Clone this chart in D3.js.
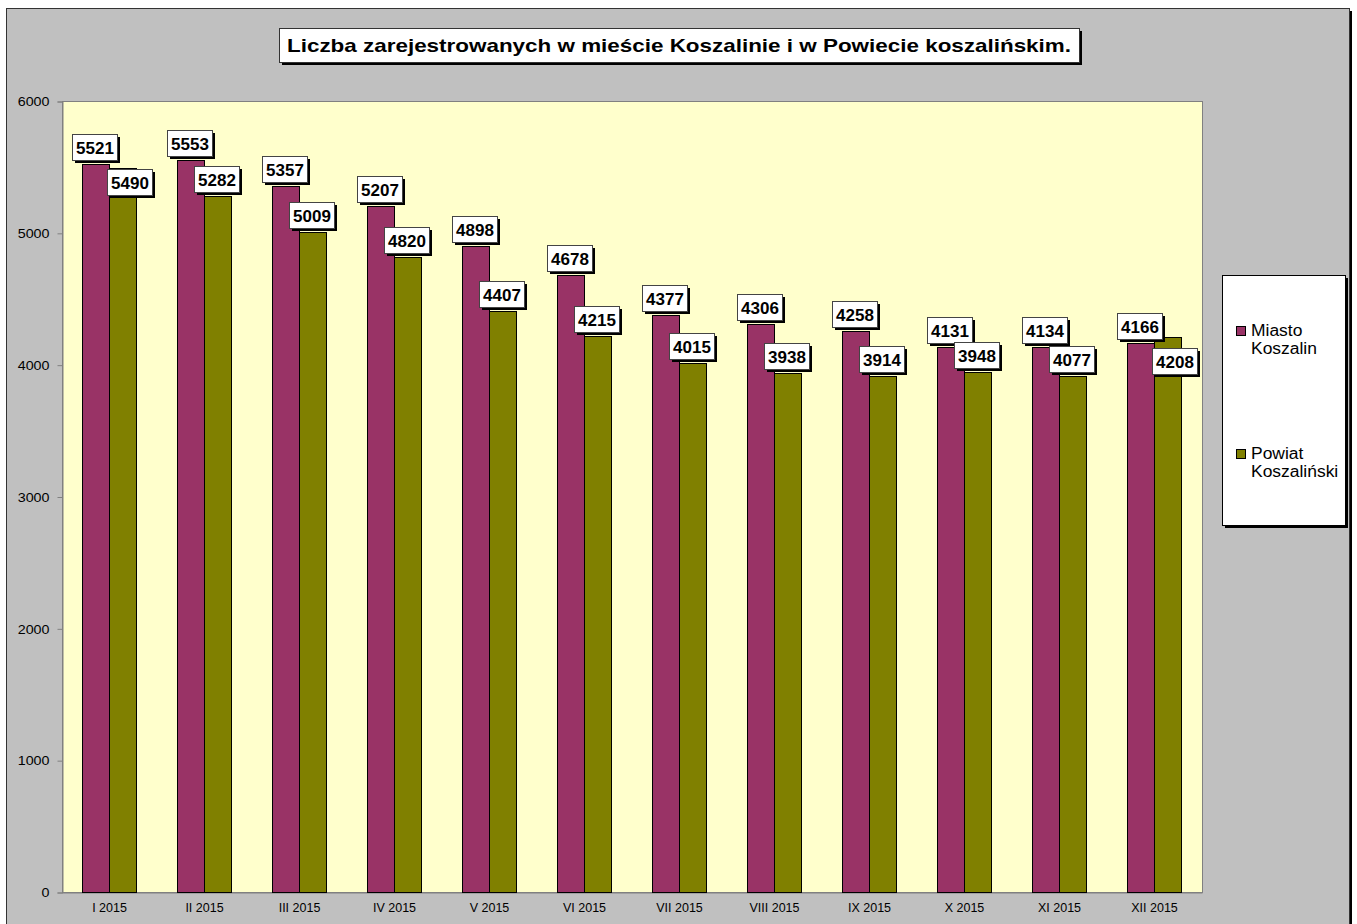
<!DOCTYPE html>
<html>
<head>
    <meta charset="utf-8" />
    <title>Liczba zarejestrowanych</title>
    <script src="https://cdn.jsdelivr.net/npm/d3@7"></script>
    <style type="text/css">
        body { margin: 0; background: #fff; }
        text { font-family: "Liberation Sans", Arial, sans-serif; }
    </style>
</head>
<body>
<div id="chart"></div>
<script type="text/javascript">
    // dane
    var categories = ["I 2015", "II 2015", "III 2015", "IV 2015", "V 2015", "VI 2015",
        "VII 2015", "VIII 2015", "IX 2015", "X 2015", "XI 2015", "XII 2015"];
    var miasto = [5521, 5553, 5357, 5207, 4898, 4678, 4377, 4306, 4258, 4131, 4134, 4166];
    // slupek XI na rysunku siega ok. 3914, etykieta pokazuje 4077
    var powiat = [5490, 5282, 5009, 4820, 4407, 4215, 4015, 3938, 3914, 3948, 3914, 4208];
    var powiatLabels = ["5490", "5282", "5009", "4820", "4407", "4215", "4015", "3938", "3914", "3948", "4077", "4208"];
    var miastoLabels = miasto.map(String);
    var seriesNames = ["Miasto\nKoszalin", "Powiat\nKoszaliński"];
    var yTicks = [0, 1000, 2000, 3000, 4000, 5000, 6000];
    var title = "Liczba zarejestrowanych w mieście Koszalinie i w Powiecie koszalińskim.";

    var colors = ["#993366", "#808000"];
    var width = 1357, height = 924;

    var svg = d3.select("#chart").append("svg")
        .attr("width", width)
        .attr("height", height);

    // rozciagniecie tekstu w poziomie (jak w oryginale)
    function stretch(sel, k) {
        sel.each(function () {
            var w = this.getComputedTextLength();
            d3.select(this).attr("textLength", w * k).attr("lengthAdjust", "spacingAndGlyphs");
        });
    }

    // tlo wykresu (z cieniem)
    svg.append("rect").attr("x", 9).attr("y", 11).attr("width", 1343).attr("height", 930).attr("fill", "#000");
    svg.append("rect").attr("x", 6.5).attr("y", 8.5).attr("width", 1343).attr("height", 930)
        .attr("fill", "#c0c0c0").attr("stroke", "#333").attr("stroke-width", 1);

    var plot = { left: 62, right: 1202, top: 101, bottom: 892 };

    var x = d3.scaleBand().domain(categories).range([plot.left, plot.right]);
    var xs = d3.scaleBand().domain([0, 1]).range([20, 74]);
    var y = d3.scaleLinear().domain([0, 6000]).range([plot.bottom, plot.top]);

    svg.append("rect")
        .attr("x", plot.left + 0.5).attr("y", plot.top + 0.5)
        .attr("width", plot.right - plot.left).attr("height", plot.bottom - plot.top)
        .attr("fill", "#ffffcc").attr("stroke", "#808080");

    // os Y
    var yAxis = svg.append("g")
        .attr("transform", "translate(" + (plot.left + 0.5) + ",0.5)")
        .call(d3.axisLeft(y).tickValues(yTicks).tickSize(5).tickPadding(8).tickFormat(d3.format("d")));
    yAxis.select(".domain").attr("stroke", "#808080");
    yAxis.selectAll(".tick line").attr("stroke", "#808080");
    yAxis.selectAll("text").attr("font-size", "13px").attr("fill", "#000")
        .style("font-family", "'Liberation Sans', Arial, sans-serif")
        .call(stretch, 1.1);

    // os X
    var xAxis = svg.append("g")
        .attr("transform", "translate(0," + (plot.bottom + 0.5) + ")")
        .call(d3.axisBottom(x).tickSize(0).tickPadding(11));
    xAxis.select(".domain").attr("stroke", "#808080");
    xAxis.selectAll("text").attr("font-size", "12.5px").attr("fill", "#000")
        .style("font-family", "'Liberation Sans', Arial, sans-serif");

    var series = [miasto, powiat];
    var groups = svg.selectAll("g.cat")
        .data(categories)
        .enter().append("g")
        .attr("class", "cat")
        .attr("transform", function (d) { return "translate(" + x(d) + ",0)"; });

    series.forEach(function (vals, s) {
        groups.append("rect")
            .attr("x", function (d, i) { return xs(s) + 0.5; })
            .attr("y", function (d, i) { return Math.round(y(vals[i])) + 0.5; })
            .attr("width", xs.bandwidth())
            .attr("height", function (d, i) { return plot.bottom - Math.round(y(vals[i])); })
            .attr("fill", colors[s])
            .attr("stroke", "#000")
            .attr("stroke-width", 1);
    });

    // etykiety danych
    var boxW = 45, boxH = 26;
    function labelBox(cx, top, txt) {
        var g = svg.append("g");
        g.append("rect").attr("x", cx - boxW / 2 + 3).attr("y", top + 3)
            .attr("width", boxW).attr("height", boxH).attr("fill", "#000");
        g.append("rect").attr("x", cx - boxW / 2 + 0.5).attr("y", top + 0.5)
            .attr("width", boxW).attr("height", boxH)
            .attr("fill", "#fff").attr("stroke", "#444").attr("stroke-width", 1);
        g.append("text").attr("x", cx + 0.5).attr("y", top + 19.5)
            .attr("text-anchor", "middle").attr("font-size", "17px").attr("font-weight", "bold")
            .text(txt);
    }

    categories.forEach(function (c, i) {
        var cx0 = x(c) + xs(0) + xs.bandwidth() / 2 - 1;
        var top0 = y(miasto[i]) - 4 - boxH;
        labelBox(cx0, Math.round(top0), miastoLabels[i]);

        var cx1 = x(c) + xs(1) + xs.bandwidth() / 2 - 1;
        var top1 = y(powiat[i]) - 4 - boxH;
        // jesli etykieta naklada sie na etykiete miasta - przesun w dol i w prawo
        if (top0 + boxH - top1 > 10) {
            top1 = top0 + boxH + 9;
            cx1 += 8;
        }
        labelBox(cx1, Math.round(top1), powiatLabels[i]);
    });

    // tytul
    var tg = svg.append("g");
    tg.append("rect").attr("x", 679 - 400 + 3).attr("y", 28 + 3).attr("width", 800).attr("height", 34).attr("fill", "#000");
    tg.append("rect").attr("x", 679 - 400 + 0.5).attr("y", 28.5).attr("width", 800).attr("height", 34)
        .attr("fill", "#fff").attr("stroke", "#333");
    tg.append("text").attr("x", 679).attr("y", 52)
        .attr("text-anchor", "middle").attr("font-size", "19px").attr("font-weight", "bold")
        .attr("textLength", 784).attr("lengthAdjust", "spacingAndGlyphs")
        .text(title);

    // legenda
    var lg = svg.append("g");
    lg.append("rect").attr("x", 1225).attr("y", 278).attr("width", 123).attr("height", 250).attr("fill", "#000");
    lg.append("rect").attr("x", 1222.5).attr("y", 275.5).attr("width", 123).attr("height", 250)
        .attr("fill", "#fff").attr("stroke", "#000");
    var legY = [326, 449];
    seriesNames.forEach(function (n, s) {
        lg.append("rect").attr("x", 1236.5).attr("y", legY[s] + 0.5).attr("width", 9).attr("height", 9)
            .attr("fill", colors[s]).attr("stroke", "#000");
        n.split("\n").forEach(function (line, k) {
            lg.append("text").attr("x", 1251).attr("y", legY[s] + 9.5 + k * 18)
                .attr("font-size", "16px").text(line)
                .call(stretch, 1.09);
        });
    });
</script>
</body>
</html>
